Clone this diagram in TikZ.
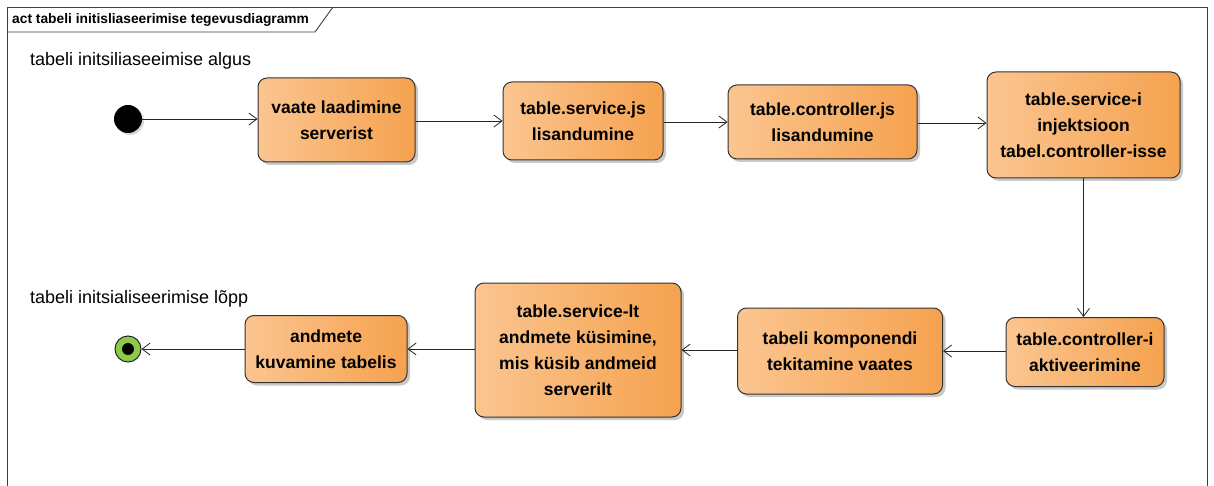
\documentclass[tikz,border=0pt]{standalone}
\usepackage{fontspec}
\setmainfont{Liberation Sans}
\usetikzlibrary{arrows.meta,shadows}
\definecolor{actleft}{HTML}{FBC590}
\definecolor{actright}{HTML}{F5A24F}
\definecolor{actborder}{HTML}{333333}
\definecolor{finalgreen}{HTML}{8CCB4A}
\tikzset{
  action/.style={draw=actborder, line width=1pt, rounded corners=9pt,
    left color=actleft, right color=actright, align=center,
    font=\fontsize{17.5}{26}\selectfont\bfseries, inner sep=0pt,
    drop shadow={shadow xshift=3pt, shadow yshift=-3pt, fill=black!35, opacity=0.6}},
  flow/.style={draw=black!85, line width=0.8pt, -{Straight Barb[length=8pt,width=12pt,line width=0.8pt]}},
  caption/.style={font=\fontsize{18}{20}\selectfont, anchor=west, inner sep=0pt}
}
\begin{document}
\begin{tikzpicture}[x=1pt,y=-1pt]
\useasboundingbox (0,0) rectangle (1214,486);
\fill[white] (0,0) rectangle (1214,486);
% diagram frame and its name tab
\draw[black!75, line width=0.9pt] (7,486) -- (7,7) -- (1207,7) -- (1207,486);
\draw[black!75, line width=0.9pt] (7,32) -- (315,32) -- (333,7);
\node[anchor=west, inner sep=0pt, font=\fontsize{13.8}{15}\selectfont\bfseries] (title) at (12,19.5) {act tabeli initisliaseerimise tegevusdiagramm};

% start and end labels
\node[caption] (startlbl) at (30,61) {tabeli initsiliaseeimise algus};
\node[caption] (endlbl) at (30,299) {tabeli initsialiseerimise lõpp};

% initial and final nodes
\node[circle, fill=black, minimum size=28pt, inner sep=0pt,
  drop shadow={shadow xshift=2pt, shadow yshift=-2pt, fill=black!30, opacity=0.5}] (start) at (128,119) {};
\node[circle, draw=black!85, line width=1pt, fill=finalgreen, minimum size=26pt, inner sep=0pt] (end) at (128,349) {};
\fill[black] (end.center) circle (6pt);

% actions
\node[action, minimum width=157pt, minimum height=84pt] (a1) at (336.5,120) {vaate laadimine\\serverist};
\node[action, minimum width=160pt, minimum height=78pt] (a2) at (583,121) {table.service.js\\lisandumine};
\node[action, minimum width=189pt, minimum height=74pt] (a3) at (822.5,122) {table.controller.js\\lisandumine};
\node[action, minimum width=193pt, minimum height=106pt] (a4) at (1083.5,125) {table.service-i\\injektsioon\\tabel.controller-isse};
\node[action, minimum width=158pt, minimum height=69pt] (a5) at (1085,352) {table.controller-i\\aktiveerimine};
\node[action, minimum width=205pt, minimum height=86pt] (a6) at (840,351) {tabeli komponendi\\tekitamine vaates};
\node[action, minimum width=206pt, minimum height=134pt] (a7) at (578,350) {table.service-lt\\andmete küsimine,\\mis küsib andmeid\\serverilt};
\node[action, minimum width=162pt, minimum height=67pt] (a8) at (326,349) {andmete\\kuvamine tabelis};

% control flows
\draw[flow] (start) -- (a1.west |- start);
\draw[flow] (a1.east |- 0,121) -- (a2.west |- 0,121);
\draw[flow] (a2.east |- 0,122) -- (a3.west |- 0,122);
\draw[flow] (a3.east |- 0,123) -- (a4.west |- 0,123);
\draw[flow] (a4.south) -- (a4.south |- a5.north);
\draw[flow] (a5.west |- 0,351) -- (a6.east |- 0,351);
\draw[flow] (a6.west |- 0,350) -- (a7.east |- 0,350);
\draw[flow] (a7.west |- 0,349) -- (a8.east |- 0,349);
\draw[flow] (a8) -- (end);
\end{tikzpicture}
\end{document}
